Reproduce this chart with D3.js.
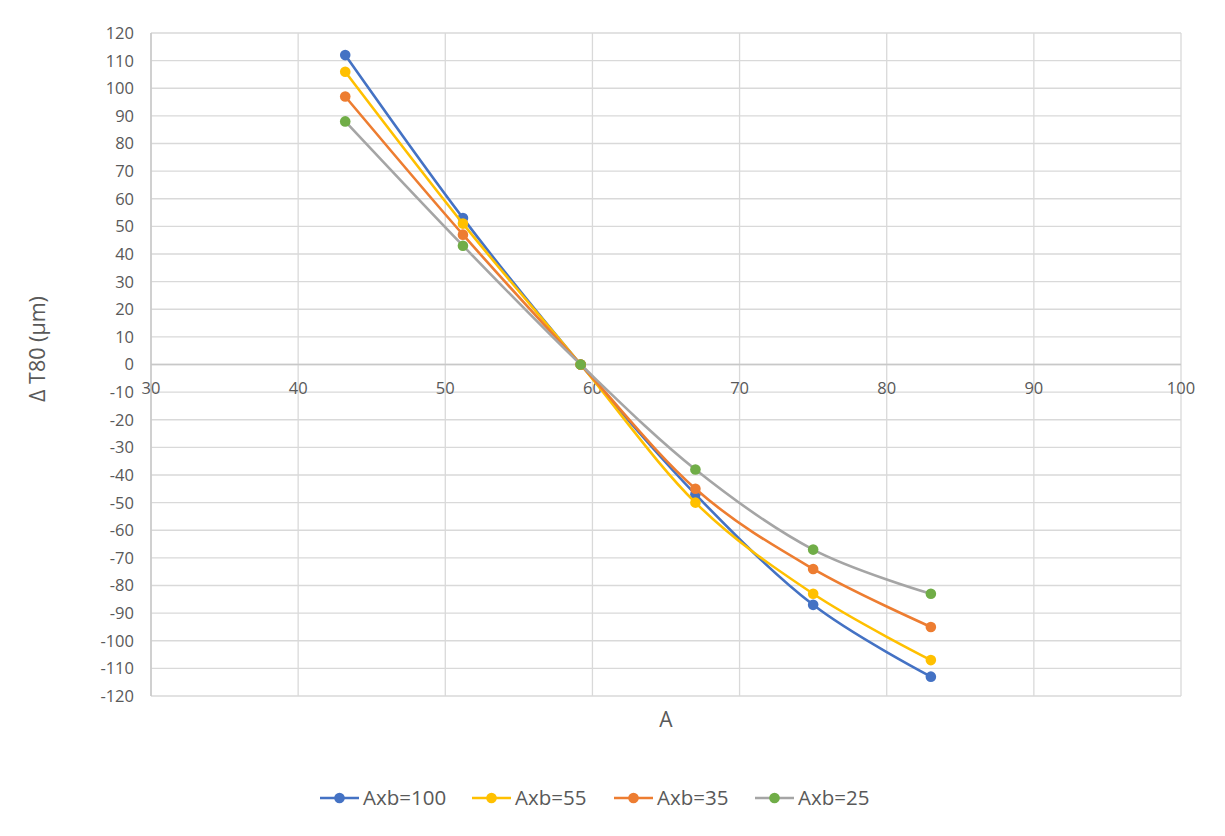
<!DOCTYPE html>
<html>
<head>
<meta charset="utf-8">
<script src="https://cdn.jsdelivr.net/npm/d3@7"></script>
<style>
  html, body { margin: 0; padding: 0; background: #fff; }
  svg { display: block; font-family: "Open Sans", "Liberation Sans", sans-serif; }
</style>
</head>
<body>
<svg id="chart" width="1225" height="836"></svg>
<script>
// ---- data ----
const xValues = [43.2, 51.2, 59.2, 67.0, 75.0, 83.0];
const seriesNames = ["Axb=100", "Axb=55", "Axb=35", "Axb=25"];
const axb100 = [112, 53, 0, -47, -87, -113];
const axb55  = [106, 51, 0, -50, -83, -107];
const axb35  = [97, 47, 0, -45, -74, -95];
const axb25  = [88, 43, 0, -38, -67, -83];
const xTicks = [30, 40, 50, 60, 70, 80, 90, 100];
const yTicks = d3.range(-120, 121, 10);

const lineColors   = ["#4472C4", "#FFC000", "#ED7D31", "#A5A5A5"];
const markerColors = ["#4472C4", "#FFC000", "#ED7D31", "#70AD47"];
const seriesValues = [axb100, axb55, axb35, axb25];

// ---- layout ----
const svg = d3.select("#chart");
const pLeft = 151, pRight = 1181, pTop = 33, pBottom = 696;
const x = d3.scaleLinear().domain([30, 100]).range([pLeft, pRight]);
const y = d3.scaleLinear().domain([-120, 120]).range([pBottom, pTop]);
const gridColor = "#d9d9d9";
const textColor = "#595959";

// horizontal gridlines
svg.append("g").selectAll("line").data(yTicks).join("line")
  .attr("x1", pLeft).attr("x2", pRight)
  .attr("y1", d => y(d)).attr("y2", d => y(d))
  .attr("stroke", gridColor).attr("stroke-width", 1.3);
// vertical gridlines
svg.append("g").selectAll("line").data(xTicks).join("line")
  .attr("x1", d => x(d)).attr("x2", d => x(d))
  .attr("y1", pTop).attr("y2", pBottom)
  .attr("stroke", gridColor).attr("stroke-width", 1.3);

// x axis line at zero
svg.append("line").attr("x1", pLeft).attr("x2", pRight)
  .attr("y1", y(0)).attr("y2", y(0))
  .attr("stroke", "#c8c8c8").attr("stroke-width", 1.5);
// y axis line
svg.append("line").attr("x1", pLeft).attr("x2", pLeft)
  .attr("y1", pTop).attr("y2", pBottom)
  .attr("stroke", "#c8c8c8").attr("stroke-width", 1.5);

// y tick labels
svg.append("g").selectAll("text").data(yTicks).join("text")
  .attr("x", 134).attr("y", d => y(d))
  .attr("dy", "0.36em").attr("text-anchor", "end")
  .attr("font-size", 16.5).attr("fill", textColor)
  .text(d => d);
// x tick labels (just below zero line)
svg.append("g").selectAll("text").data(xTicks).join("text")
  .attr("x", d => x(d)).attr("y", y(0) + 29.5)
  .attr("text-anchor", "middle")
  .attr("font-size", 16.5).attr("fill", textColor)
  .text(d => d);

// axis titles
svg.append("text").attr("x", 666).attr("y", 727)
  .attr("text-anchor", "middle").attr("font-size", 21).attr("fill", textColor).text("A");
svg.append("text").attr("transform", "translate(45,349) rotate(-90)")
  .attr("text-anchor", "middle").attr("font-size", 21.5).attr("fill", textColor).text("Δ T80 (µm)");

// series
const line = d3.line().x(d => x(d[0])).y(d => y(d[1])).curve(d3.curveCatmullRom.alpha(0));
seriesValues.forEach((vals, i) => {
  const pts = xValues.map((xv, j) => [xv, vals[j]]);
  const g = svg.append("g");
  g.append("path").attr("d", line(pts)).attr("fill", "none")
    .attr("stroke", lineColors[i]).attr("stroke-width", 2.6)
    .attr("stroke-linejoin", "round").attr("stroke-linecap", "round");
  g.selectAll("circle").data(pts).join("circle")
    .attr("cx", d => x(d[0])).attr("cy", d => y(d[1])).attr("r", 5.3)
    .attr("fill", markerColors[i]);
});

// legend
const legendX = [320, 472, 614, 755];
const lg = svg.append("g");
seriesNames.forEach((name, i) => {
  const lx = legendX[i], ly = 798;
  lg.append("line").attr("x1", lx).attr("x2", lx + 39).attr("y1", ly).attr("y2", ly)
    .attr("stroke", lineColors[i]).attr("stroke-width", 2.6);
  lg.append("circle").attr("cx", lx + 19.5).attr("cy", ly).attr("r", 5.3).attr("fill", markerColors[i]);
  lg.append("text").attr("x", lx + 43).attr("y", ly).attr("dy", "0.36em")
    .attr("font-size", 20.5).attr("fill", textColor).text(name);
});
</script>
</body>
</html>
